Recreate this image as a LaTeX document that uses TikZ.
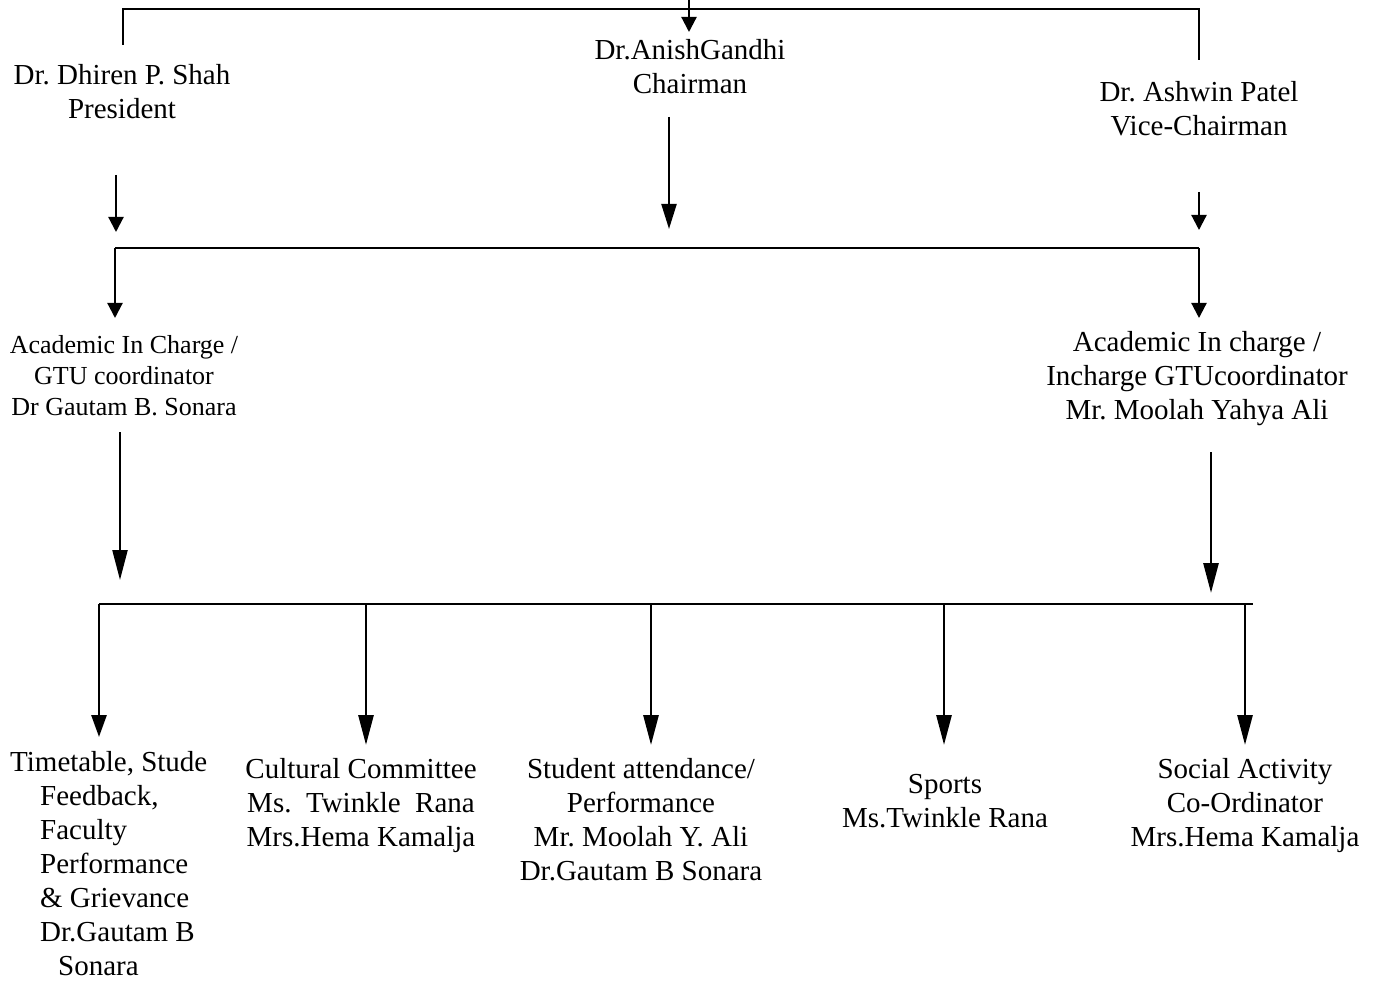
\documentclass[tikz,border=0pt]{standalone}
\usepackage{fontspec}
\setmainfont{Liberation Serif}
\usetikzlibrary{arrows.meta}
\frenchspacing
\tikzset{
  big/.style={font=\fontsize{29}{34}\selectfont, inner sep=0pt, align=center},
  small/.style={font=\fontsize{26}{31}\selectfont, inner sep=0pt, align=center},
  ln/.style={line width=2.2pt},
  lnb/.style={line width=2.8pt},
  arS/.style={-{Triangle[width=15pt,length=15pt]}},
  arM/.style={-{Triangle[width=15pt,length=25pt]}},
  arL/.style={-{Triangle[width=15pt,length=30pt]}},
  arB/.style={-{Triangle[width=15pt,length=22pt]}}
}
\begin{document}
\begin{tikzpicture}[x=1pt,y=-1pt]
\useasboundingbox[fill=white] (0,0) rectangle (1376,981);

% ---- nodes ----
\node[big] (pres)  at (122,92)  {Dr. Dhiren P. Shah\\President};
\node[big] (chair) at (690,67)  {Dr.AnishGandhi\\Chairman};
\node[big] (vice)  at (1199,109) {Dr. Ashwin Patel\\Vice-Chairman};

\node[small] (acadL) at (124,376) {Academic In Charge /\\GTU coordinator\\Dr Gautam B. Sonara};
\node[big]   (acadR) at (1197,379) {Academic In charge /\\Incharge GTUcoordinator\\Mr. Moolah Yahya Ali};

\node[big, align=left, anchor=west] (t1) at (10,864)
  {Timetable, Stude\\\hspace*{30pt}Feedback,\\\hspace*{30pt}Faculty\\\hspace*{30pt}Performance\\\hspace*{30pt}\& Grievance\\\hspace*{30pt}Dr.Gautam B\\\hspace*{48pt}Sonara};
\node[big] (t2) at (361,806) {Cultural Committee\\Ms.\ \ Twinkle\ \ Rana\\Mrs.Hema Kamalja};
\node[big] (t3) at (641,820) {Student attendance/\\Performance\\Mr. Moolah Y. Ali\\Dr.Gautam B Sonara};
\node[big] (t4) at (945,801) {Sports\\Ms.Twinkle Rana};
\node[big] (t5) at (1245,806) {Social Activity\\Co-Ordinator\\Mrs.Hema Kamalja};

% ---- coordinates ----
\coordinate (top)   at (689,0);
\coordinate (topT)  at (689,32);
\coordinate (tl)    at (123,9);
\coordinate (tr)    at (1199,9);
\coordinate (tlE)   at (123,45);
\coordinate (trE)   at (1199,60);

\coordinate (a1s) at (116,175);  \coordinate (a1t) at (116,232);
\coordinate (a2s) at (669,117);  \coordinate (a2t) at (669,229);
\coordinate (a3s) at (1199,192); \coordinate (a3t) at (1199,230);

\coordinate (m1) at (115,248);   \coordinate (m2) at (1199,248);
\coordinate (m1t) at (115,318);  \coordinate (m2t) at (1199,318);

\coordinate (b1s) at (120,432);  \coordinate (b1t) at (120,580);
\coordinate (b2s) at (1211,452); \coordinate (b2t) at (1211,593);

\coordinate (h1) at (99,604);    \coordinate (h2) at (1253,604);
\coordinate (d1) at (99,604);    \coordinate (d1t) at (99,737);
\coordinate (d2) at (366,604);   \coordinate (d2t) at (366,745);
\coordinate (d3) at (651,604);   \coordinate (d3t) at (651,745);
\coordinate (d4) at (944,604);   \coordinate (d4t) at (944,745);
\coordinate (d5) at (1245,604);  \coordinate (d5t) at (1245,745);

% ---- connectors ----
\draw[ln] (tlE) -- (tl) -- (tr) -- (trE);
\draw[ln,arS] (top) -- (topT);

\draw[ln,arS] (a1s) -- (a1t);
\draw[ln,arM] (a2s) -- (a2t);
\draw[ln,arS] (a3s) -- (a3t);

\draw[ln] (m1) -- (m2);
\draw[ln,arS] (m1) -- (m1t);
\draw[ln,arS] (m2) -- (m2t);

\draw[ln,arL] (b1s) -- (b1t);
\draw[lnb,arL] (b2s) -- (b2t);

\draw[lnb] (h1) -- (h2);
\draw[lnb,arB] (d1) -- (d1t);
\draw[lnb,arL] (d2) -- (d2t);
\draw[lnb,arL] (d3) -- (d3t);
\draw[lnb,arL] (d4) -- (d4t);
\draw[lnb,arL] (d5) -- (d5t);
\end{tikzpicture}
\end{document}
